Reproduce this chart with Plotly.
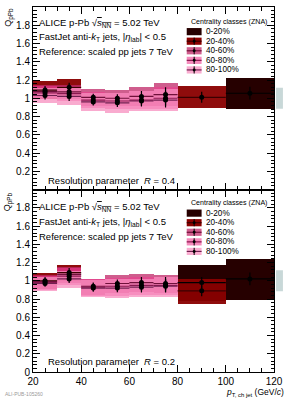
import plotly.graph_objects as go
from plotly.subplots import make_subplots

# ---------------- data ----------------
bin_lo = [20, 30, 40, 50, 60, 70, 80, 100]
bin_hi = [30, 40, 50, 60, 70, 80, 100, 120]
classes = ["0-20%", "20-40%", "40-60%", "60-80%", "80-100%"]

# R = 0.4 (top panel): values, systematic, statistical
r04_c1_val = [None, None, None, None, None, None, None, 1.055]
r04_c1_sys = [None, None, None, None, None, None, None, 0.17]
r04_c1_stat = [None, None, None, None, None, None, None, 0.07]
r04_c2_val = [1.09, 1.12, None, None, None, None, 1.01, None]
r04_c2_sys = [0.095, 0.09, None, None, None, None, 0.12, None]
r04_c2_stat = [0.045, 0.05, None, None, None, None, 0.06, None]
r04_c3_val = [1.075, 1.07, 1.01, 1.00, 1.02, 1.04, None, None]
r04_c3_sys = [0.075, 0.08, 0.09, 0.09, 0.105, 0.13, None, None]
r04_c3_stat = [0.04, 0.045, 0.04, 0.045, 0.06, 0.08, None, None]
r04_c4_val = [1.06, 1.05, 0.98, 0.97, 0.98, 1.00, None, None]
r04_c4_sys = [0.07, 0.08, 0.09, 0.09, 0.10, 0.12, None, None]
r04_c4_stat = [0.04, 0.045, 0.04, 0.045, 0.06, 0.08, None, None]
r04_c5_val = [1.03, 1.02, 0.96, 0.95, 0.97, 0.98, None, None]
r04_c5_sys = [0.085, 0.09, 0.10, 0.11, 0.11, 0.12, None, None]
r04_c5_stat = [0.045, 0.05, 0.04, 0.045, 0.06, 0.08, None, None]

# R = 0.2 (bottom panel)
r02_c1_val = [None, None, None, None, None, None, 0.98, 1.02]
r02_c1_sys = [None, None, None, None, None, None, 0.20, 0.22]
r02_c1_stat = [None, None, None, None, None, None, 0.06, 0.07]
r02_c2_val = [1.00, 1.09, None, None, None, None, 0.89, None]
r02_c2_sys = [0.09, 0.09, None, None, None, None, 0.14, None]
r02_c2_stat = [0.04, 0.05, None, None, None, None, 0.06, None]
r02_c3_val = [0.99, 1.07, 0.94, 0.97, 0.98, 0.97, None, None]
r02_c3_sys = [0.08, 0.09, 0.09, 0.10, 0.10, 0.10, None, None]
r02_c3_stat = [0.035, 0.045, 0.04, 0.045, 0.06, 0.07, None, None]
r02_c4_val = [0.98, 1.05, 0.93, 0.94, 0.95, 0.95, None, None]
r02_c4_sys = [0.08, 0.09, 0.09, 0.10, 0.10, 0.10, None, None]
r02_c4_stat = [0.035, 0.045, 0.04, 0.045, 0.06, 0.07, None, None]
r02_c5_val = [0.97, 1.02, 0.92, 0.92, 0.93, 0.94, None, None]
r02_c5_sys = [0.08, 0.09, 0.09, 0.10, 0.10, 0.11, None, None]
r02_c5_stat = [0.035, 0.045, 0.04, 0.045, 0.06, 0.07, None, None]

norm_unc_r04 = 0.115
norm_unc_r02 = 0.115

y_ticks = [0.2, 0.4, 0.6, 0.8, 1.0, 1.2, 1.4, 1.6, 1.8]
y_ticks_bottom = [0, 0.2, 0.4, 0.6, 0.8, 1.0, 1.2, 1.4, 1.6, 1.8]
x_ticks = [20, 40, 60, 80, 100, 120]

# ---------------- styles ----------------
box_colors = ["#260000", "#8a0000", "#c02868", "#ee3c90", "#f890c0"]
box_opac = [1.0, 0.95, 0.75, 0.6, 0.75]
line_colors = ["#000000", "#3a0000", "#70103a", "#8a1850", "#702050"]
FONT = "Liberation Sans, Arial, sans-serif"

fig = make_subplots(rows=2, cols=1, shared_xaxes=True, vertical_spacing=0)

panels = [
    (1, [(r04_c1_val, r04_c1_sys, r04_c1_stat), (r04_c2_val, r04_c2_sys, r04_c2_stat),
         (r04_c3_val, r04_c3_sys, r04_c3_stat), (r04_c4_val, r04_c4_sys, r04_c4_stat),
         (r04_c5_val, r04_c5_sys, r04_c5_stat)]),
    (2, [(r02_c1_val, r02_c1_sys, r02_c1_stat), (r02_c2_val, r02_c2_sys, r02_c2_stat),
         (r02_c3_val, r02_c3_sys, r02_c3_stat), (r02_c4_val, r02_c4_sys, r02_c4_stat),
         (r02_c5_val, r02_c5_sys, r02_c5_stat)]),
]

for row, sets in panels:
    # boxes first
    for ci, (val, sys, stat) in enumerate(sets):
        xs, bases, hs, ws = [], [], [], []
        for i in range(len(bin_lo)):
            if val[i] is None:
                continue
            xs.append((bin_lo[i] + bin_hi[i]) / 2)
            ws.append(bin_hi[i] - bin_lo[i])
            bases.append(val[i] - sys[i])
            hs.append(2 * sys[i])
        fig.add_trace(go.Bar(x=xs, y=hs, base=bases, width=ws,
                             marker=dict(color=box_colors[ci], line=dict(width=0)),
                             opacity=box_opac[ci], showlegend=False,
                             hoverinfo="skip"), row=row, col=1)
    # points
    for ci, (val, sys, stat) in enumerate(sets):
        xs, ys, es, exs = [], [], [], []
        for i in range(len(bin_lo)):
            if val[i] is None:
                continue
            xs.append((bin_lo[i] + bin_hi[i]) / 2)
            exs.append((bin_hi[i] - bin_lo[i]) / 2)
            ys.append(val[i])
            es.append(stat[i])
        fig.add_trace(go.Scatter(x=xs, y=ys, mode="markers",
                                 marker=dict(color="black", size=5),
                                 error_y=dict(type="data", array=es, color="black",
                                              thickness=1.2, width=0),
                                 error_x=dict(type="data", array=exs, color=line_colors[ci],
                                              thickness=1.2, width=0),
                                 showlegend=False, hoverinfo="skip"), row=row, col=1)

fig.update_layout(barmode="overlay", bargap=0)

axis_common = dict(showline=True, linecolor="black", linewidth=1, mirror="ticks",
                   ticks="inside", ticklen=7, tickcolor="black", showgrid=False,
                   zeroline=False, tickfont=dict(family=FONT, size=10, color="black"))

fig.update_xaxes(range=[20, 120], tickvals=x_ticks, **axis_common,
                 minor=dict(ticks="inside", dtick=5, tick0=0, ticklen=4, tickcolor="black"))
fig.update_xaxes(showticklabels=False, row=1, col=1)
fig.update_yaxes(range=[0, 2], **axis_common,
                 minor=dict(ticks="inside", dtick=0.04, tick0=0, ticklen=3.5, tickcolor="black"))
fig.update_yaxes(tickvals=y_ticks, ticktext=[("1" if v == 1 else f"{v:.1f}") for v in y_ticks],
                 row=1, col=1)
fig.update_yaxes(tickvals=y_ticks_bottom,
                 ticktext=[("0" if v == 0 else "1" if v == 1 else f"{v:.1f}") for v in y_ticks_bottom],
                 row=2, col=1)

W, H = 289, 400
ML, MR, MT, MB = 33, 13, 6, 28
PH = H - MT - MB
PW = W - ML - MR


def py2paper(py):
    return (H - MB - py) / PH


def px2paper(px):
    return (px - ML) / PW


ann = []
shapes = []
tf = dict(family=FONT, size=9.5, color="black")

for (yoff, rlabel, norm, yref) in [(0, "0.4", norm_unc_r04, "y"), (185, "0.2", norm_unc_r02, "y2")]:
    texts = ["ALICE p-Pb &#8730;<span style='text-decoration:overline'><i>s</i><sub>NN</sub></span> = 5.02 TeV",
             "FastJet anti-<i>k</i><sub>T</sub> jets, |<i>η</i><sub>lab</sub>| &lt; 0.5",
             "Reference: scaled pp jets 7 TeV"]
    for k, t in enumerate(texts):
        ann.append(dict(text=t, x=px2paper(37), y=py2paper(22 + yoff + 14.5 * k), xref="paper",
                        yref="paper", xanchor="left", yanchor="middle", showarrow=False, font=tf))
    ann.append(dict(text=f"Resolution parameter  <i>R</i> = {rlabel}", x=px2paper(46),
                    y=py2paper(180 if yoff == 0 else 361), xref="paper", yref="paper",
                    xanchor="left", yanchor="middle", showarrow=False, font=tf))
    # y-axis title
    ann.append(dict(text="Q<sub>pPb</sub>", x=px2paper(8), y=py2paper(5 + yoff), xref="paper",
                    yref="paper", xanchor="center", yanchor="top", textangle=-90,
                    showarrow=False, font=dict(family=FONT, size=9, color="black")))
    # legend
    ty = 21 if yoff == 0 else 203
    ann.append(dict(text="Centrality classes (ZNA)", x=px2paper(190), y=py2paper(ty), xref="paper",
                    yref="paper", xanchor="left", yanchor="middle", showarrow=False,
                    font=dict(family=FONT, size=7.1, color="black")))
    for ci, cname in enumerate(classes):
        ey = ty + 9.7 + 9.6 * ci
        shapes.append(dict(type="rect", xref="paper", yref="paper", x0=px2paper(188), x1=px2paper(203),
                           y0=py2paper(ey + 3.6), y1=py2paper(ey - 3.6), fillcolor=box_colors[ci],
                           opacity=box_opac[ci] if ci > 1 else 1, line=dict(width=0)))
        if ci > 0:
            shapes.append(dict(type="line", xref="paper", yref="paper", x0=px2paper(188), x1=px2paper(203),
                               y0=py2paper(ey), y1=py2paper(ey), line=dict(color=line_colors[ci], width=1.2)))
            shapes.append(dict(type="line", xref="paper", yref="paper", x0=px2paper(195.5), x1=px2paper(195.5),
                               y0=py2paper(ey - 3.6), y1=py2paper(ey + 3.6), line=dict(color="black", width=1)))
            shapes.append(dict(type="circle", xref="paper", yref="paper", x0=px2paper(194), x1=px2paper(197),
                               y0=py2paper(ey + 1.5), y1=py2paper(ey - 1.5), fillcolor="black",
                               line=dict(width=0)))
        ann.append(dict(text=cname, x=px2paper(205), y=py2paper(ey), xref="paper", yref="paper",
                        xanchor="left", yanchor="middle", showarrow=False,
                        font=dict(family=FONT, size=8.2, color="black")))
    # normalisation uncertainty box
    shapes.append(dict(type="rect", xref="paper", yref=yref, x0=px2paper(278), x1=px2paper(285),
                       y0=1 - norm, y1=1 + norm, fillcolor="#c8d8d8", line=dict(width=0)))

ann.append(dict(text="<i>p</i><sub>T, ch jet</sub> (GeV/<i>c</i>)", x=px2paper(288), y=py2paper(385),
                xref="paper", yref="paper", xanchor="right", yanchor="top", showarrow=False,
                font=dict(family=FONT, size=8.5, color="black")))
ann.append(dict(text="ALI-PUB-105260", x=px2paper(3), y=py2paper(394), xref="paper", yref="paper",
                xanchor="left", yanchor="middle", showarrow=False,
                font=dict(family=FONT, size=5, color="#999999")))

fig.update_layout(width=W, height=H, margin=dict(l=ML, r=MR, t=MT, b=MB),
                  paper_bgcolor="white", plot_bgcolor="white",
                  annotations=ann, shapes=shapes, showlegend=False)

fig.write_html("out.html")
